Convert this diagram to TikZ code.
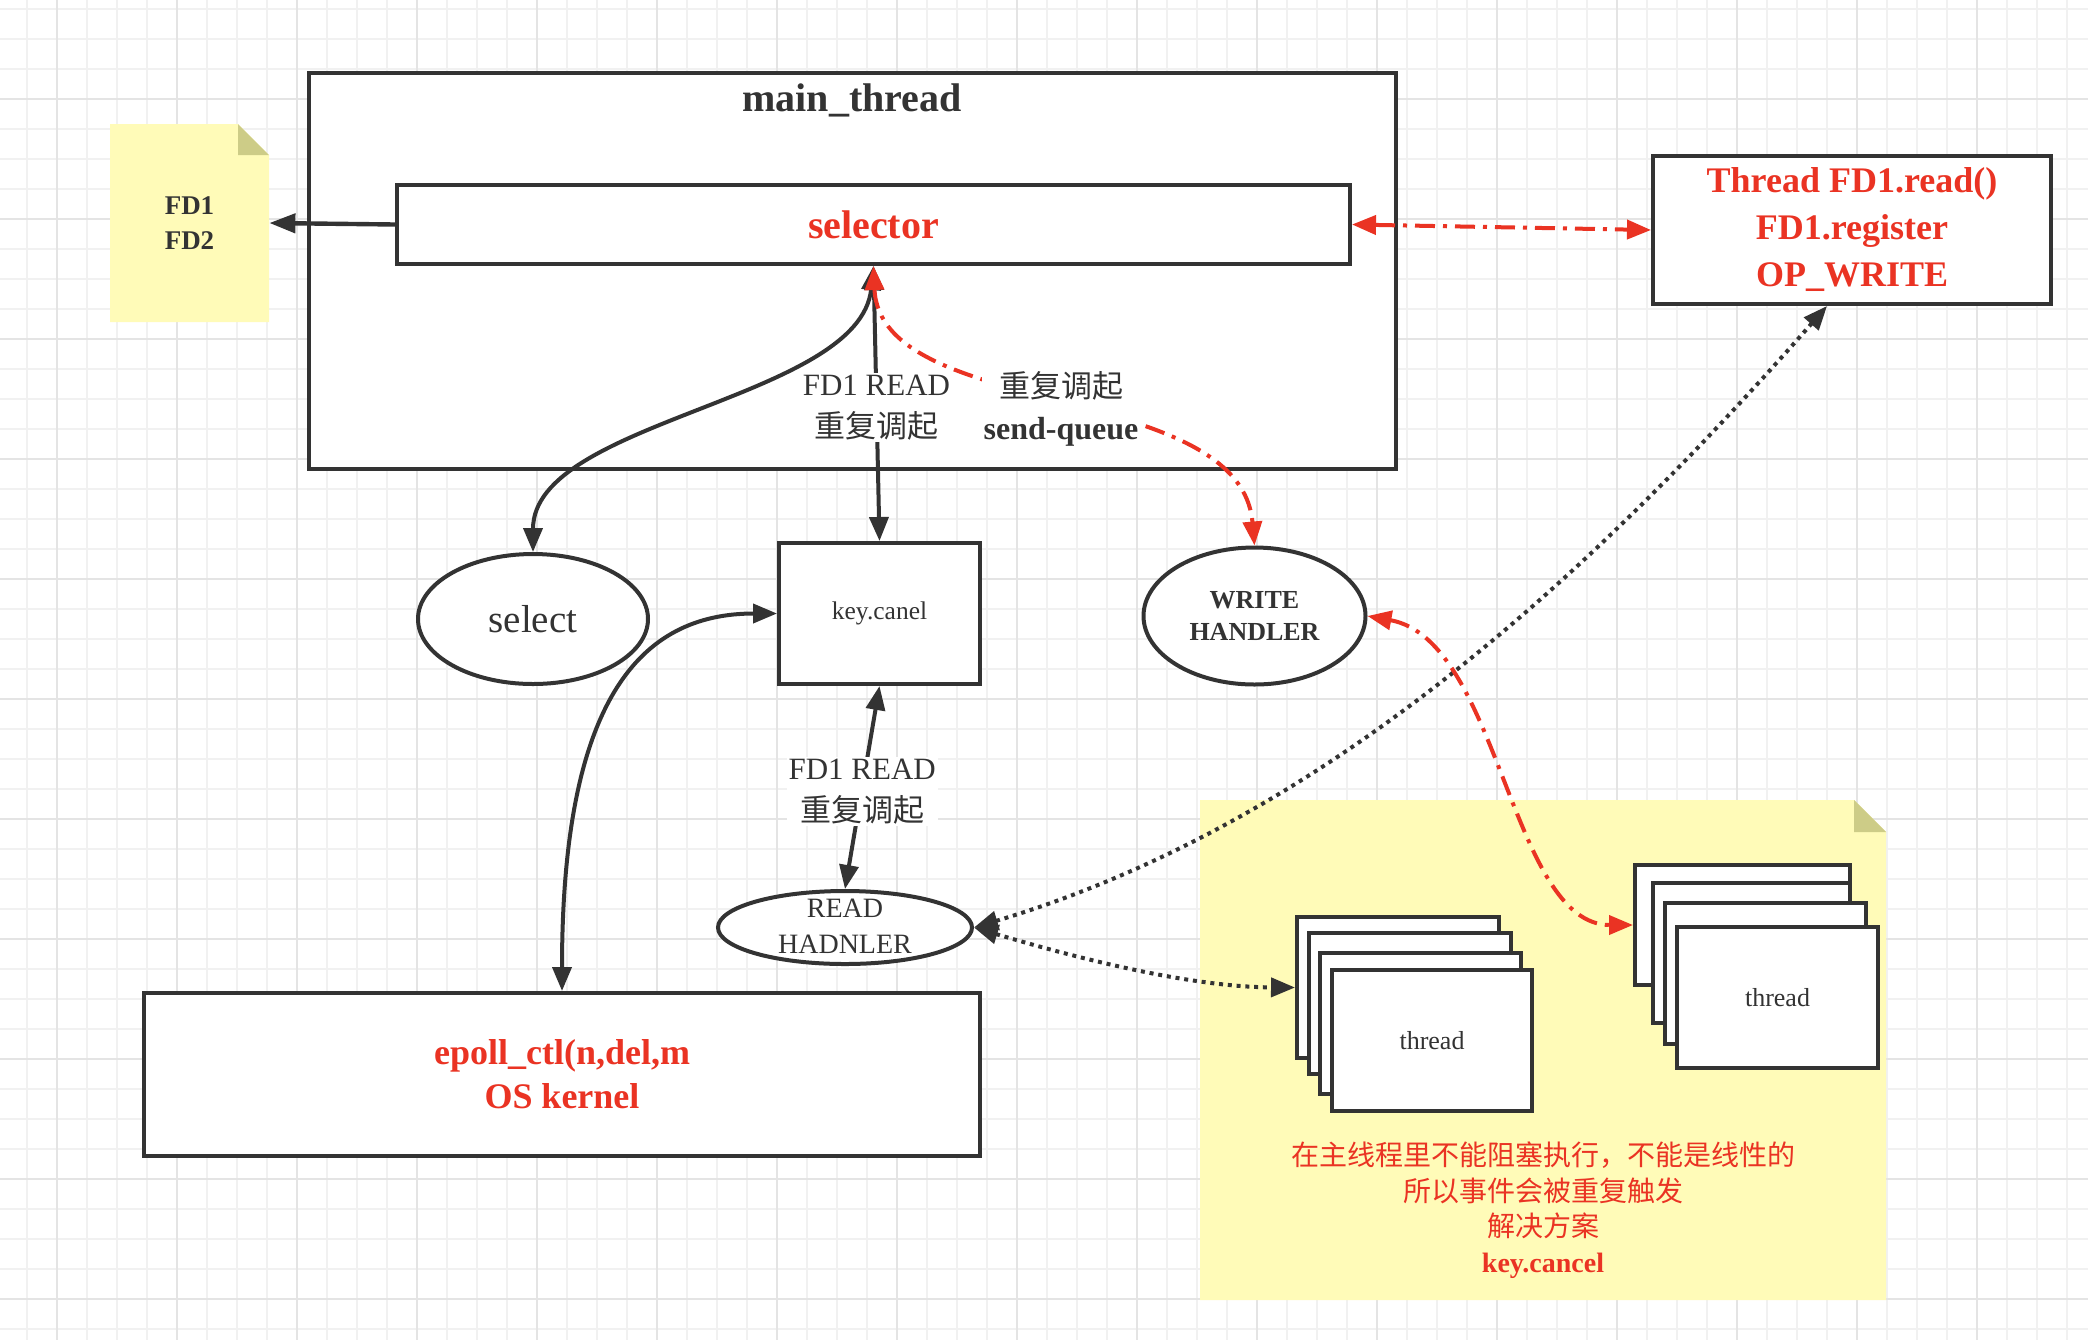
\documentclass[tikz,border=0pt]{standalone}
\usepackage{fontspec}
\setmainfont{Liberation Serif}
\newfontfamily\cjk{Noto Sans CJK SC}
\usetikzlibrary{arrows.meta,shapes.geometric,calc}
\definecolor{dk}{HTML}{333333}
\definecolor{rd}{HTML}{EA3323}
\definecolor{yel}{HTML}{FFFBB8}
\definecolor{foldc}{HTML}{CDCC87}
\definecolor{gmin}{HTML}{F1F1F1}
\definecolor{gmaj}{HTML}{E4E4E4}
\newcommand\fsz[2]{\fontsize{#1}{#2}\selectfont}
\tikzset{
  box/.style={draw=dk, line width=2pt, fill=white, rectangle, inner sep=0pt},
  ell/.style={draw=dk, line width=2pt, fill=white, ellipse, inner sep=0pt},
  ln/.style={draw=dk, line width=2pt},
  rdd/.style={draw=rd, line width=2pt, dash pattern=on 10pt off 4pt on 2pt off 4pt},
  dotl/.style={draw=dk, line width=2pt, dash pattern=on 2pt off 2.4pt},
  lbl/.style={fill=white, inner sep=1pt, align=center, text=dk, font=\fsz{15.5pt}{21pt}},
}
\begin{document}
\begin{tikzpicture}[x=0.5pt,y=-0.5pt, >={Triangle[length=12pt,width=9.5pt]}]
\useasboundingbox (0,0) rectangle (2088,1340);
\fill[white] (0,0) rectangle (2088,1340);
% grid
\foreach \x in {27,57,...,2067} \draw[gmin,line width=0.9pt] (\x,0) -- (\x,1340);
\foreach \y in {9,39,...,1329} \draw[gmin,line width=0.9pt] (0,\y) -- (2088,\y);
\foreach \x in {57,177,...,1977} \draw[gmaj,line width=0.9pt] (\x,0) -- (\x,1340);
\foreach \y in {99,219,...,1299} \draw[gmaj,line width=0.9pt] (0,\y) -- (2088,\y);

% notes
\fill[yel] (110,124) -- (238,124) -- (269,155) -- (269,322) -- (110,322) -- cycle;
\fill[foldc] (238,124) -- (238,155) -- (269,155) -- cycle;
\fill[yel] (1200,800) -- (1854,800) -- (1886,832) -- (1886,1300) -- (1200,1300) -- cycle;
\fill[foldc] (1854,800) -- (1854,832) -- (1886,832) -- cycle;

% nodes
\node[box, minimum width=543.5pt, minimum height=198pt] (main) at (852.5,271) {};
\node[font=\fsz{20pt}{24pt}\bfseries, text=dk] (mtitle) at (852,100) {main\_thread};
\node[box, minimum width=476.5pt, minimum height=39.5pt, font=\fsz{20pt}{24pt}\bfseries, text=rd] (sel) at (873.5,224.5) {selector};
\node[minimum width=79.5pt, minimum height=99pt, inner sep=0pt, align=center, font=\fsz{13.5pt}{17.5pt}\bfseries, text=dk] (fd) at (189.5,223) {FD1\\FD2};
\node[box, minimum width=199pt, minimum height=74pt, align=center, font=\fsz{18pt}{23.5pt}\bfseries, text=rd] (thr) at (1852,230) {Thread FD1.read()\\FD1.register\\OP\_WRITE};
\node[ell, minimum width=115pt, minimum height=65pt, font=\fsz{19.5pt}{24pt}, text=dk] (sel2) at (533,619) {select};
\node[box, minimum width=100.5pt, minimum height=70.5pt, font=\fsz{12.75pt}{15pt}, text=dk] (key) at (879.5,613.5) {key.canel};
\node[ell, minimum width=111pt, minimum height=68.5pt, align=center, font=\fsz{13pt}{16pt}\bfseries, text=dk] (wh) at (1254.5,616) {WRITE\\HANDLER};
\node[ell, minimum width=127pt, minimum height=36.5pt] (rh) at (845,927.5) {};
\node[align=center, font=\fsz{14pt}{18pt}, text=dk, inner sep=0pt] (rhtxt) at (845,926) {READ\\HADNLER};
\node[box, minimum width=418pt, minimum height=81.5pt, align=center, font=\fsz{18pt}{22pt}\bfseries, text=rd] (ep) at (562,1074.5) {epoll\_ctl(n,del,m\\OS kernel};

% thread stacks
\node[box, minimum width=101pt, minimum height=70.5pt] (t1a) at (1398,987.5) {};
\node[box, minimum width=101pt, minimum height=70.5pt] (t1b) at (1410,1003.5) {};
\node[box, minimum width=100.5pt, minimum height=70.5pt] (t1c) at (1420.5,1023.5) {};
\node[box, minimum width=100pt, minimum height=70.5pt, font=\fsz{13pt}{16pt}, text=dk] (t1d) at (1432,1040.5) {thread};
\node[box, minimum width=107.5pt, minimum height=60pt] (t2a) at (1742.5,925) {};
\node[box, minimum width=98.5pt, minimum height=70pt] (t2b) at (1751.5,953) {};
\node[box, minimum width=100.5pt, minimum height=70.5pt] (t2c) at (1765.5,973.5) {};
\node[box, minimum width=100.5pt, minimum height=70.5pt, font=\fsz{13pt}{16pt}, text=dk] (t2d) at (1777.5,997.5) {thread};

\node[align=center, font=\fsz{14pt}{17.85pt}, text=rd] (nt) at (1543,1210)
  {{\cjk 在主线程里不能阻塞执行，不能是线性的}\\{\cjk 所以事件会被重复触发}\\{\cjk 解决方案}\\\textbf{key.cancel}};

% connectors
\draw[draw=dk, line width=2.2pt, -{Triangle[length=13pt,width=9.5pt]}] (sel.west) -- (fd.east);
\draw[ln, <->] (sel.south) .. controls (860,400) and (533,420) .. (sel2.north);
\draw[ln, <->] (sel.south) -- node[lbl, yshift=-2pt] (la) {FD1 READ\\{\cjk 重复调起}} (key.north);
\draw[rdd, <->, rd] (sel.south) .. controls (880,420) and (1240,380) .. (wh.north)
  node[lbl, pos=0.5, yshift=-3.5pt] (lc) {{\cjk 重复调起}\\\textbf{\fsz{16pt}{21pt}send-queue}};
\draw[rdd, <->, rd] (sel.east) -- (thr.west);
\draw[ln, <->] (key.south) -- node[lbl, yshift=-2pt] (ld) {FD1 READ\\{\cjk 重复调起}} (rh.north);
\draw[ln, <->] (ep.north) .. controls (562,700) and (640,613.5) .. (key.west);
\draw[dotl, <->] (rh.east) .. controls (1300,830) and (1560,610) .. ([xshift=-12.5pt]thr.south);
\draw[dotl, <->] (rh.east) .. controls (1100,965) and (1200,987) .. (t1a.west);
\draw[rdd, <->, rd] (wh.east) .. controls (1500,640) and (1510,925) .. (t2a.west);
\end{tikzpicture}
\end{document}
